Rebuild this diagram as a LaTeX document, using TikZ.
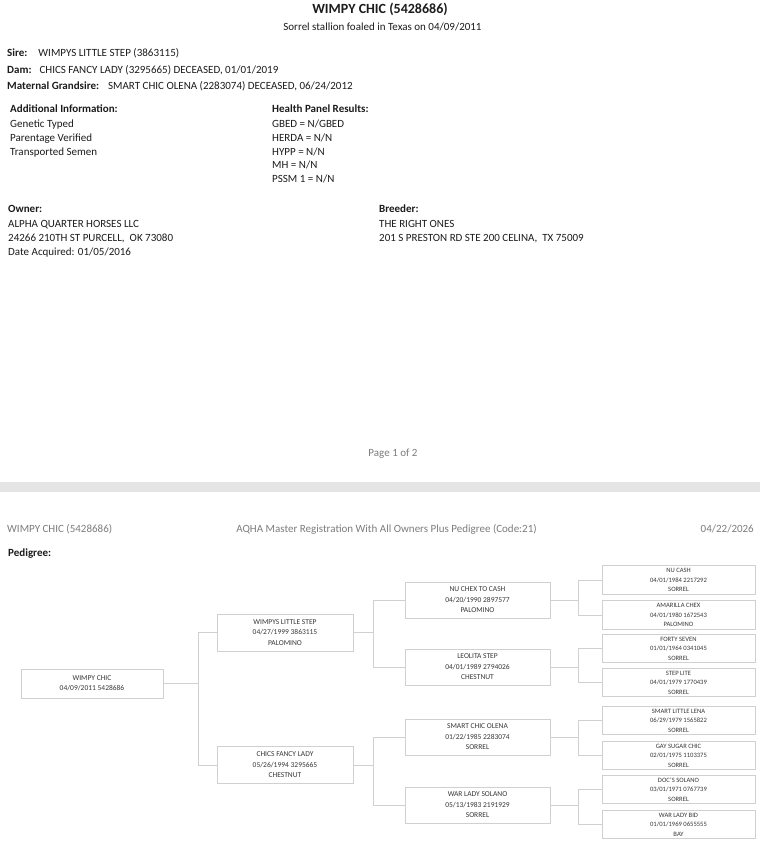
\documentclass[tikz,border=0pt]{standalone}
\usepackage{fontspec}
\setmainfont{Carlito}
\usepackage{xcolor}
\usepackage{tikz}
\usetikzlibrary{positioning,calc}
\definecolor{pgText} {RGB}{ 28, 28, 28}
\definecolor{pgGrey} {RGB}{125,125,125}
\definecolor{pgBoxT} {RGB}{ 55, 55, 55}
\definecolor{pgLine} {RGB}{208,208,208}
\definecolor{pgBand} {RGB}{229,229,229}

\begin{document}
\begin{tikzpicture}[x=1pt,y=-1pt,
  every node/.style={inner sep=0pt,text=pgText,font=\fontsize{11}{13}\selectfont},
  lbl/.style={anchor=base west},
  hdr/.style={anchor=base west,font=\fontsize{11}{13}\selectfont\bfseries},
  ttl/.style={anchor=base,font=\fontsize{14}{16}\selectfont\bfseries},
  gry/.style={text=pgGrey},
  hbox/.style={draw=pgLine,line width=0.9pt,align=center,text=pgBoxT,
               font=\fontsize{7.5}{10.5}\selectfont},
  gen0/.style={hbox,minimum width=142pt,minimum height=29pt,font=\fontsize{7.5}{10}\selectfont},
  gen1/.style={hbox,minimum width=136pt,minimum height=37pt},
  gen2/.style={hbox,minimum width=145pt,minimum height=36pt},
  gen3/.style={hbox,minimum width=153pt,minimum height=28.5pt,font=\fontsize{6.6}{9.5}\selectfont},
  link/.style={draw=pgLine,line width=1pt}
]
\useasboundingbox[fill=white] (0,0) rectangle (760,846);
% Page 1: horse header
\node[ttl] (T)  at (380,13.5) {WIMPY CHIC (5428686)};
\node[anchor=base] (ST) at (382.5,30.5) {Sorrel stallion foaled in Texas on 04/09/2011};
\node[lbl] (SI) at (7,56.5) {\textbf{Sire:}\hspace{11pt}WIMPYS LITTLE STEP (3863115)};
\node[lbl] (DA) at (7,73)   {\textbf{Dam:}\hspace{8pt}CHICS FANCY LADY (3295665) DECEASED, 01/01/2019};
\node[lbl] (MG) at (7,89.5) {\textbf{Maternal Grandsire:}\hspace{9pt}SMART CHIC OLENA (2283074) DECEASED, 06/24/2012};
% Additional info / health panel
\node[hdr] (AI)  at (10,112)    {Additional Information:};
\node[lbl] (AI1) at (10,127.8)  {Genetic Typed};
\node[lbl] (AI2) at (10,141.8)  {Parentage Verified};
\node[lbl] (AI3) at (10,155.3)  {Transported Semen};
\node[hdr] (HP)  at (272,112)   {Health Panel Results:};
\node[lbl] (HP1) at (272,127.8) {GBED = N/GBED};
\node[lbl] (HP2) at (272,141.8) {HERDA = N/N};
\node[lbl] (HP3) at (272,155.3) {HYPP = N/N};
\node[lbl] (HP4) at (272,168.6) {MH = N/N};
\node[lbl] (HP5) at (272,182.6) {PSSM 1 = N/N};
% Owner / breeder
\node[hdr] (OW)  at (8,212.6)   {Owner:};
\node[lbl] (OW1) at (8,227.6)   {ALPHA QUARTER HORSES LLC};
\node[lbl] (OW2) at (8,241.6)   {24266 210TH ST PURCELL,\ \ OK 73080};
\node[lbl] (OW3) at (8,255.6)   {Date Acquired: 01/05/2016};
\node[hdr] (BR)  at (379,212.6) {Breeder:};
\node[lbl] (BR1) at (379,227.6) {THE RIGHT ONES};
\node[lbl] (BR2) at (379,241.6) {201 S PRESTON RD STE 200 CELINA,\ \ TX 75009};
\node[anchor=base,gry] (PG) at (393,456.6) {Page 1 of 2};
% page break band
\fill[pgBand] (0,482) rectangle (760,492);
% Page 2: running header
\node[lbl,gry] (RH1) at (7,532.6) {WIMPY CHIC (5428686)};
\node[anchor=base,gry] (RH2) at (386.5,532.6) {AQHA Master Registration With All Owners Plus Pedigree (Code:21)};
\node[anchor=base east,gry] (RH3) at (754,532.6) {04/22/2026};
\node[hdr] (PD) at (8,556) {Pedigree:};
% Pedigree boxes, one column per generation
\node[gen0] (P0) at (92,683.5)  {WIMPY CHIC\\04/09/2011 5428686};
\node[gen1] (S)  at (285,632.5) {WIMPYS LITTLE STEP\\04/27/1999 3863115\\PALOMINO};
\node[gen1] (D)  at (285,765)   {CHICS FANCY LADY\\05/26/1994 3295665\\CHESTNUT};
\node[gen2] (SS) at (477.5,600) {NU CHEX TO CASH\\04/20/1990 2897577\\PALOMINO};
\node[gen2] (SD) at (477.5,667) {LEOLITA STEP\\04/01/1989 2794026\\CHESTNUT};
\node[gen2] (DS) at (477.5,737) {SMART CHIC OLENA\\01/22/1985 2283074\\SORREL};
\node[gen2] (DD) at (477.5,805) {WAR LADY SOLANO\\05/13/1983 2191929\\SORREL};
\node[gen3] (SSS) at (678.5,580)   {NU CASH\\04/01/1984 2217292\\SORREL};
\node[gen3] (SSD) at (678.5,615)   {AMARILLA CHEX\\04/01/1980 1672543\\PALOMINO};
\node[gen3] (SDS) at (678.5,648.5) {FORTY SEVEN\\01/01/1964 0341045\\SORREL};
\node[gen3] (SDD) at (678.5,682.5) {STEP LITE\\04/01/1979 1770439\\SORREL};
\node[gen3] (DSS) at (678.5,720.5) {SMART LITTLE LENA\\06/29/1979 1565822\\SORREL};
\node[gen3] (DSD) at (678.5,755.5) {GAY SUGAR CHIC\\02/01/1975 1103375\\SORREL};
\node[gen3] (DDS) at (678.5,789.5) {DOC'S SOLANO\\03/01/1971 0767739\\SORREL};
\node[gen3] (DDD) at (678.5,824.5) {WAR LADY BID\\01/01/1969 0655555\\BAY};
% Connectors: parent east side -> elbow -> sire / dam west side
\draw[link] (P0.east) -- ++(35,0) |- (S.west);
\draw[link] (P0.east) -- ++(35,0) |- (D.west);
\draw[link] (S.east)  -- ++(20,0) |- (SS.west);
\draw[link] (S.east)  -- ++(20,0) |- (SD.west);
\draw[link] (D.east)  -- ++(20,0) |- (DS.west);
\draw[link] (D.east)  -- ++(20,0) |- (DD.west);
\draw[link] (SS.east) -- ++(28,0) |- (SSS.west);
\draw[link] (SS.east) -- ++(28,0) |- (SSD.west);
\draw[link] (SD.east) -- ++(28,0) |- (SDS.west);
\draw[link] (SD.east) -- ++(28,0) |- (SDD.west);
\draw[link] (DS.east) -- ++(28,0) |- (DSS.west);
\draw[link] (DS.east) -- ++(28,0) |- (DSD.west);
\draw[link] (DD.east) -- ++(28,0) |- (DDS.west);
\draw[link] (DD.east) -- ++(28,0) |- (DDD.west);
\end{tikzpicture}
\end{document}
